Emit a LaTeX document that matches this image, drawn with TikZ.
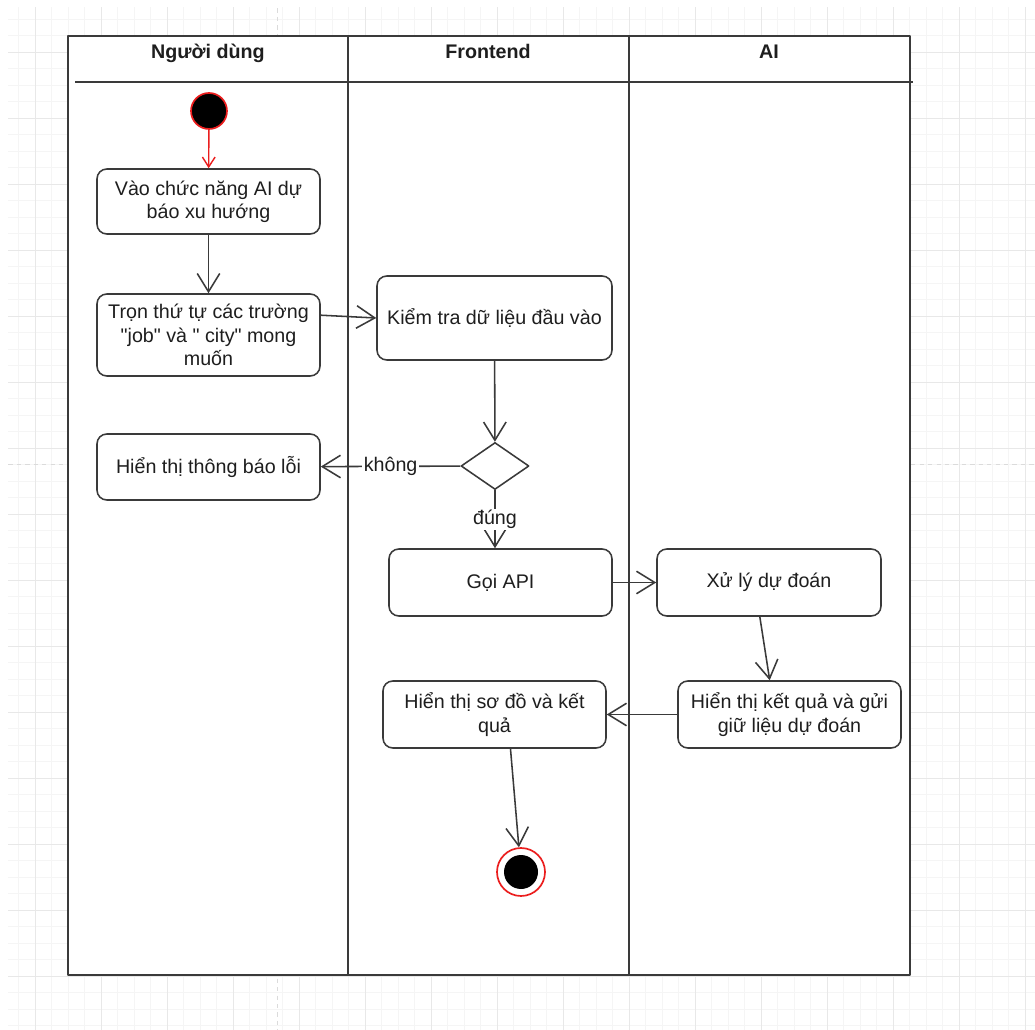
\documentclass[tikz,border=0pt]{standalone}
\usepackage{fontspec}
\setmainfont{Liberation Sans}[Ligatures=TeXOff]
\usetikzlibrary{arrows.meta,shapes.geometric}
\definecolor{linec}{RGB}{58,58,58}
\definecolor{txtc}{RGB}{30,30,30}
\definecolor{startred}{RGB}{235,30,30}
\newcommand\boxfont{\fontsize{14pt}{16.5pt}\selectfont}
\tikzset{
  act/.style={draw=linec, line width=1.1pt, rounded corners=7pt, fill=white,
    align=center, text=txtc, font=\boxfont, inner sep=2pt},
  flow/.style={draw=linec, line width=1.1pt, -{Straight Barb[length=13pt,width=16pt]}},
  startflow/.style={draw=startred, line width=1pt, -{Straight Barb[length=7pt,width=9pt]}},
  guard/.style={fill=white, text=txtc, font=\boxfont, inner sep=1pt},
  lane/.style={font=\boxfont\bfseries, text=txtc, anchor=base},
}
\begin{document}
\begin{tikzpicture}[x=0.025cm, y=-0.025cm, line join=round]
        \def\u{0.025cm} \def\laneA{348} \def\laneB{629}
\coordinate (TL) at (68,36);
\coordinate (BR) at (910,975);
\useasboundingbox (0,0) rectangle (1035,1030);
% grid of the canvas
\begin{scope}
\clip (8,8) rectangle (1035,1030);
\foreach \g in {2,18.5,...,1040} \draw[black!4, line width=0.4pt] (\g,0) -- (\g,1030);
\foreach \g in {2.5,19,...,1040} \draw[black!4, line width=0.4pt] (0,\g) -- (1035,\g);
\foreach \g in {35,101,...,1040} \draw[black!9, line width=0.5pt] (\g,0) -- (\g,1030);
\foreach \g in {52,118,...,1040} \draw[black!9, line width=0.5pt] (0,\g) -- (1035,\g);
\draw[black!14, dashed] (0,464) -- (1035,464);
\draw[black!14, dashed] (277,0) -- (277,1030);
\end{scope}
% swimlanes
\draw[linec, line width=1.3pt, fill=white] (TL) rectangle (BR);
\draw[linec, line width=1.3pt] (\laneA,36) -- (\laneA,975) (\laneB,36) -- (\laneB,975);
\draw[linec, line width=1.3pt] (75,82) -- (913,82);
\node[lane] (hUser) at (208,59) {Người dùng};
\node[lane] (hFront) at (488,59) {Frontend};
\node[lane] (hAI) at (769,59) {AI};
% activities
\node[circle, fill=black, draw=startred, line width=1.2pt, minimum size=36*\u, inner sep=0pt] (start) at (209,111) {};
\node[act, minimum width=223*\u, minimum height=65*\u] (b1) at (208.5,201.5) {Vào chức năng AI dự\\báo xu hướng};
\node[act, minimum width=223*\u, minimum height=82*\u] (b2) at (208.5,335) {Trọn thứ tự các trường\\"job" và " city" mong\\muốn};
\node[act, minimum width=235*\u, minimum height=84*\u] (b3) at (494.5,318) {Kiểm tra dữ liệu đầu vào};
\node[diamond, draw=linec, line width=1.1pt, fill=white, inner sep=0pt, minimum width=68*\u, minimum height=47*\u] (dec) at (495,466) {};
\node[act, minimum width=223*\u, minimum height=66*\u] (b4) at (208.5,467) {Hiển thị thông báo lỗi};
\node[act, minimum width=223*\u, minimum height=67*\u] (b5) at (500.5,582.5) {Gọi API};
\node[act, minimum width=224*\u, minimum height=67*\u] (b6) at (769,582.5) {Xử lý dự đoán};
\node[act, minimum width=223*\u, minimum height=67*\u] (b7) at (789.5,714.5) {Hiển thị kết quả và gửi\\giữ liệu dự đoán};
\node[act, minimum width=223*\u, minimum height=67*\u] (b8) at (494.5,714.5) {Hiển thị sơ đồ và kết\\quả};
\node[circle, draw=startred, line width=1.2pt, fill=white, minimum size=48*\u, inner sep=0pt] (stop) at (521,872) {};
\node[circle, fill=black, minimum size=34*\u, inner sep=0pt] (stopdot) at (stop) {};
% transitions
\draw[startflow] (start) -- (b1);
\draw[flow] (b1) -- (b2);
\draw[flow] (b2.10) -- (b3.west);
\draw[flow] (b3) -- (dec);
\draw[flow] (dec) -- node[guard]{không} (b4);
\draw[flow] (dec.south) -- node[guard]{đúng} (dec.south |- b5.north);
\draw[flow] (b5) -- (b6);
\draw[flow] (b6.255) -- (b7.120);
\draw[flow] (b7) -- (b8);
\draw[flow] (b8.295) -- (stop);
    \end{tikzpicture}
\end{document}
